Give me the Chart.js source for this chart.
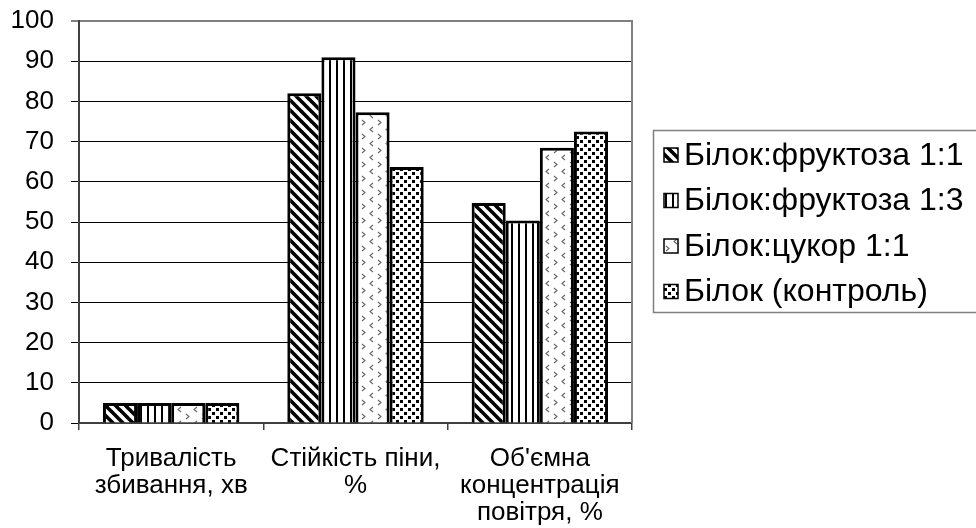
<!DOCTYPE html>
<html>
<head>
<meta charset="utf-8">
<script src="https://cdn.jsdelivr.net/npm/chart.js@4/dist/chart.umd.min.js"></script>
<style>
  html, body { margin: 0; padding: 0; background: #fff; }
  #wrap { width: 976px; height: 528px; }
</style>
</head>
<body>
<div id="wrap"><canvas id="chart" width="976" height="528"></canvas></div>
<script>
const categories = [
  ['Тривалість', 'збивання, хв'],
  ['Стійкість піни,', '%'],
  ["Об'ємна", 'концентрація', 'повітря, %']
];
const seriesNames = ['Білок:фруктоза 1:1', 'Білок:фруктоза 1:3', 'Білок:цукор 1:1', 'Білок (контроль)'];
const fructose11 = [5, 82, 54.7];
const fructose13 = [5, 91, 50.4];
const sugar11 = [5, 77.3, 68.5];
const control = [5, 63.7, 72.5];
const yMin = 0;
const yMax = 100;
const yStep = 10;

const FONT = "'Liberation Sans', Arial, sans-serif";
const canvas = document.getElementById('chart');
const ctx = canvas.getContext('2d');

function makePattern(w, h, draw) {
  const c = document.createElement('canvas');
  c.width = w;
  c.height = h;
  const g = c.getContext('2d');
  g.fillStyle = '#fff';
  g.fillRect(0, 0, w, h);
  draw(g);
  return ctx.createPattern(c, 'repeat');
}

// wide downward diagonal
const diag = makePattern(10, 10, g => {
  g.strokeStyle = '#000';
  g.lineWidth = 3.6;
  [-10, 0, 10].forEach(o => {
    g.beginPath();
    g.moveTo(o - 5, -5);
    g.lineTo(o + 15, 15);
    g.stroke();
  });
});

// vertical lines
const vert = makePattern(7, 4, g => {
  g.fillStyle = '#000';
  g.fillRect(0, 0, 2, 4);
});

// small chevrons
const chev = makePattern(16, 14, g => {
  g.strokeStyle = '#666';
  g.lineWidth = 1.1;
  g.beginPath();
  g.moveTo(5, 1); g.lineTo(2, 3.5); g.lineTo(5, 6);
  g.moveTo(10, 8); g.lineTo(13, 10.5); g.lineTo(10, 13);
  g.stroke();
});

// dense dots
const dots = makePattern(8, 8, g => {
  g.fillStyle = '#000';
  g.fillRect(0, 0, 3, 3);
  g.fillRect(4, 4, 3, 3);
});

const fills = [diag, vert, chev, dots];
const values = [fructose11, fructose13, sugar11, control];

const framePlugin = {
  id: 'frame',
  afterDraw(chart) {
    const c = chart.ctx;
    const a = chart.chartArea;
    c.save();
    // right edge of plot area
    c.strokeStyle = '#808080';
    c.lineWidth = 2;
    c.beginPath();
    c.moveTo(a.right, a.top - 1);
    c.lineTo(a.right, a.bottom);
    c.stroke();

    // legend
    c.lineWidth = 1.5;
    c.strokeRect(653.5, 130.5, 340, 182);
    c.font = '32px ' + FONT;
    c.textBaseline = 'middle';
    seriesNames.forEach((name, i) => {
      const y = 155 + i * 45.5;
      c.fillStyle = fills[i];
      c.fillRect(664, y - 7, 14, 14);
      c.strokeStyle = '#000';
      c.lineWidth = 1.5;
      c.strokeRect(664, y - 7, 14, 14);
      c.fillStyle = '#000';
      c.fillText(name, 684, y + 1);
    });
    c.restore();
  }
};

new Chart(ctx, {
  type: 'bar',
  data: {
    labels: categories,
    datasets: seriesNames.map((name, i) => ({
      label: name,
      data: values[i],
      backgroundColor: fills[i],
      borderColor: '#000',
      borderWidth: 3,
      categoryPercentage: 0.74,
      barPercentage: 1
    }))
  },
  options: {
    responsive: false,
    animation: false,
    layout: { padding: { top: 21, right: 344, left: 0, bottom: 0 } },
    plugins: {
      legend: { display: false },
      tooltip: { enabled: false }
    },
    scales: {
      x: {
        grid: {
          offset: true,
          drawOnChartArea: false,
          drawTicks: true,
          tickLength: 7,
          color: '#404040',
          lineWidth: 1.5
        },
        border: { color: '#404040', width: 2 },
        ticks: {
          color: '#000',
          font: { family: FONT, size: 26, lineHeight: 1.05 },
          padding: 15,
          maxRotation: 0,
          autoSkip: false
        },
        afterFit(s) {
          s.height = 105;
          s.paddingLeft = 0;
          s.paddingRight = 0;
        }
      },
      y: {
        min: yMin,
        max: yMax,
        ticks: {
          stepSize: yStep,
          color: '#000',
          font: { family: FONT, size: 26 },
          padding: 17
        },
        grid: {
          tickLength: 8,
          color: c => c.tick && c.tick.value === yMax ? '#808080' : '#000',
          lineWidth: c => c.tick && c.tick.value === yMax ? 2 : 1
        },
        border: { color: '#404040', width: 2 },
        afterFit(s) {
          s.width = 79;
          s.paddingTop = 0;
          s.paddingBottom = 0;
        }
      }
    }
  },
  plugins: [framePlugin]
});
</script>
</body>
</html>
